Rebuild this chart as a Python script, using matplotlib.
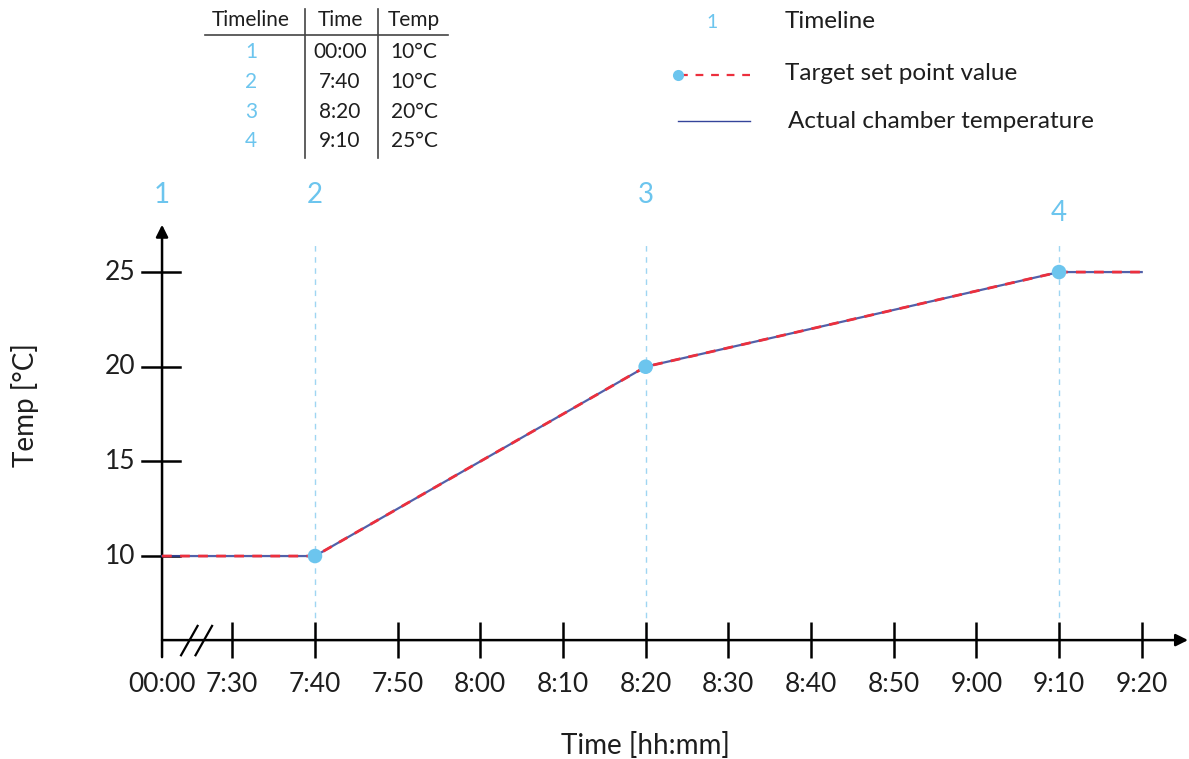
import matplotlib
matplotlib.use("Agg")
import matplotlib.pyplot as plt
from matplotlib.lines import Line2D

plt.rcParams['font.family'] = ['Lato', 'DejaVu Sans']

# ---------------------------------------------------------
# data
# ---------------------------------------------------------
tick_labels = ["00:00", "7:30", "7:40", "7:50", "8:00", "8:10", "8:20",
               "8:30", "8:40", "8:50", "9:00", "9:10", "9:20"]
y_ticks = [10, 15, 20, 25]

timeline_ids = ["1", "2", "3", "4"]
timeline_times = ["00:00", "7:40", "8:20", "9:10"]
timeline_temps = [10, 10, 20, 25]

# set point curve (ends at 9:20)
curve_times = ["00:00", "7:40", "8:20", "9:10", "9:20"]
setpoint_temps = [10, 10, 20, 25, 25]
actual_temps = [10, 10, 20, 25, 25]

# ---------------------------------------------------------
# style
# ---------------------------------------------------------
BLUE = "#6cc5ee"
LBLUE = "#9fd6f2"
RED = "#ec2f3d"
NAVY = "#34449a"
INK = "#1e1e1e"
BREAK_X = 441.5   # where "00:00" sits on the broken axis
Y0 = 5.56         # height of the x axis


def to_x(label):
    if label == "00:00":
        return BREAK_X
    h, m = label.split(":")
    return int(h) * 60 + int(m)


fig = plt.figure(figsize=(11.89, 7.59), dpi=100)
ax = fig.add_axes([0, 0, 1, 1])
ax.set_xlim(421.9, 565.72)
ax.set_ylim(-0.72, 39.37)
ax.axis("off")

# timeline guides (under the axes)
for tid, t in zip(timeline_ids, timeline_times):
    x = to_x(t)
    if tid != "1":
        ax.plot([x, x], [Y0, 26.7], color=LBLUE, lw=1.0, ls=(0, (4, 4)),
                zorder=1)
    ty = 28.12 if tid == "4" else 29.07
    ax.text(x, ty, tid, ha="center", va="center", fontsize=20, color=BLUE)

# axes with arrows
ax.annotate("", xy=(565.6, Y0), xytext=(BREAK_X, Y0),
            arrowprops=dict(arrowstyle="-|>", color="black", lw=1.8,
                            mutation_scale=18, shrinkA=0, shrinkB=0),
            zorder=2)
ax.annotate("", xy=(BREAK_X, 27.5), xytext=(BREAK_X, Y0 - 0.9),
            arrowprops=dict(arrowstyle="-|>", color="black", lw=1.8,
                            mutation_scale=18, shrinkA=0, shrinkB=0),
            zorder=2)

# x ticks
for lab in tick_labels:
    x = to_x(lab)
    if lab != "00:00":
        ax.plot([x, x], [Y0 - 0.95, Y0 + 0.95], color="black", lw=1.8,
                solid_capstyle="butt", zorder=2)
    ax.text(x, 3.24, lab, ha="center", va="center", fontsize=19,
            color=INK)

# axis break marks
for dx in (0, 1.75):
    ax.plot([443.8 + dx, 445.8 + dx], [Y0 - 0.8, Y0 + 0.75], color="black",
            lw=1.6, zorder=2)

# y ticks
for v in y_ticks:
    ax.plot([BREAK_X - 2.4, BREAK_X + 2.2], [v, v], color="black", lw=1.8,
            zorder=2)
    ax.text(BREAK_X - 3.2, v, str(v), ha="right", va="center",
            fontsize=19, color=INK)

ax.text(to_x("8:20"), 0.0, "Time [hh:mm]", ha="center", va="center",
        fontsize=20, color=INK)
ax.text(424.9, 18.0, "Temp [°C]", ha="center", va="center", rotation=90,
        fontsize=20, color=INK)

# curves
cx = [to_x(t) for t in curve_times]
ax.plot(cx, actual_temps, color=NAVY, lw=1.6, alpha=0.85, zorder=3)
ax.plot(cx, setpoint_temps, color=RED, lw=2.0, ls=(0, (3.5, 3)), zorder=4)
ax.scatter([to_x(t) for t in timeline_times[1:]], timeline_temps[1:],
           s=110, color=BLUE, zorder=5, edgecolors="none")

# ---------------------------------------------------------
# table (top left)
# ---------------------------------------------------------
W, H = 1189.0, 759.0
col_x = [251, 340, 414]
row_y = [20, 52, 82, 112, 141]
headers = ["Timeline", "Time", "Temp"]
for cx_, h in zip(col_x, headers):
    fig.text(cx_ / W, 1 - row_y[0] / H, h, ha="center", va="center",
             fontsize=15, color=INK)
for i in range(len(timeline_ids)):
    ry = 1 - row_y[i + 1] / H
    fig.text(col_x[0] / W, ry, timeline_ids[i], ha="center", va="center",
             fontsize=15, color=BLUE)
    fig.text(col_x[1] / W, ry, timeline_times[i], ha="center", va="center",
             fontsize=15, color=INK)
    fig.text(col_x[2] / W, ry, f"{timeline_temps[i]}°C", ha="center",
             va="center", fontsize=15, color=INK)
fig.add_artist(Line2D([205 / W, 448 / W], [1 - 35 / H, 1 - 35 / H],
                      color="#444444", lw=1.2))
for vx in (305, 378):
    fig.add_artist(Line2D([vx / W, vx / W], [1 - 9 / H, 1 - 158 / H],
                          color="#444444", lw=1.2))

# ---------------------------------------------------------
# legend (top right)
# ---------------------------------------------------------
fig.text(712 / W, 1 - 22 / H, "1", ha="center", va="center", fontsize=14,
         color=BLUE)
fig.text(785 / W, 1 - 22 / H, "Timeline", ha="left", va="center",
         fontsize=17.5, color=INK)
fig.add_artist(Line2D([680 / W, 750 / W], [1 - 75 / H, 1 - 75 / H],
                      color=RED, lw=1.6, ls=(0, (3.5, 3.5))))
fig.add_artist(Line2D([678 / W], [1 - 75 / H], marker="o", markersize=8,
                      color=BLUE, markeredgewidth=0))
fig.text(785 / W, 1 - 74 / H, "Target set point value", ha="left",
         va="center", fontsize=17.5, color=INK)
fig.add_artist(Line2D([678 / W, 750 / W], [1 - 121 / H, 1 - 121 / H],
                      color=NAVY, lw=1.0))
fig.text(788 / W, 1 - 122 / H, "Actual chamber temperature", ha="left",
         va="center", fontsize=17.5, color=INK)

fig.savefig("out.png", dpi=100)
